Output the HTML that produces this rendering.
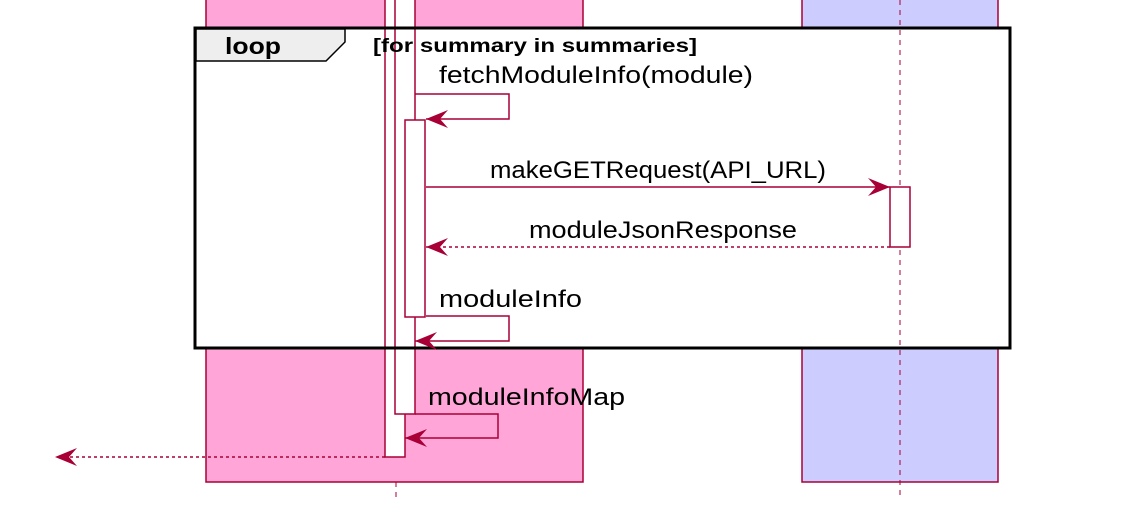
<!DOCTYPE html>
<html><head><style>body{margin:0;background:#fff}svg{display:block}</style></head><body>
<svg width="1142" height="528" viewBox="0 0 1142 528" xmlns="http://www.w3.org/2000/svg" font-family="Liberation Sans, sans-serif">
<defs>
<marker id="a" markerWidth="24" markerHeight="20" refX="22" refY="10" orient="auto" markerUnits="userSpaceOnUse"><path d="M0,1 L22,10 L0,19 L8,10 Z" fill="#A80036"/></marker>
</defs>
<rect x="206" y="-5" width="377" height="487" fill="#FFA5D8" stroke="#A80036" stroke-width="1.5"/>
<rect x="802" y="-5" width="196" height="487" fill="#CCCCFF" stroke="#A80036" stroke-width="1.5"/>
<rect x="195" y="28" width="815" height="320" fill="#fff"/>
<line x1="396" y1="482" x2="396" y2="500" stroke="#A80036" stroke-dasharray="5,5"/>
<line x1="900" y1="0" x2="900" y2="500" stroke="#A80036" stroke-dasharray="5,5"/>
<rect x="385" y="-5" width="20" height="462" fill="#fff" stroke="#A80036" stroke-width="1.5"/>
<rect x="395" y="-5" width="20" height="419" fill="#fff" stroke="#A80036" stroke-width="1.5"/>
<rect x="405" y="120" width="20" height="197" fill="#fff" stroke="#A80036" stroke-width="1.5"/>
<rect x="890" y="187" width="20" height="60" fill="#fff" stroke="#A80036" stroke-width="1.5"/>
<rect x="195" y="28" width="815" height="320" fill="none" stroke="#000" stroke-width="3"/>
<path d="M196,29 L345,29 L345,42 L326,61 L196,61 Z" fill="#EEEEEE" stroke="#000" stroke-width="1.5"/>
<text x="225" y="54" font-size="23" font-weight="bold" textLength="56" lengthAdjust="spacingAndGlyphs">loop</text>
<text x="373" y="52" font-size="19" font-weight="bold" textLength="324" lengthAdjust="spacingAndGlyphs">[for summary in summaries]</text>
<g fill="none" stroke="#A80036" stroke-width="1.5">
<polyline points="415,94 509,94 509,119 426,119" marker-end="url(#a)"/>
<line x1="426" y1="187" x2="890" y2="187" marker-end="url(#a)"/>
<line x1="890" y1="247" x2="426" y2="247" stroke-dasharray="3,3" marker-end="url(#a)"/>
<polyline points="426,316 509,316 509,341 415,341" marker-end="url(#a)"/>
<polyline points="415,414 498,414 498,438 405,438" marker-end="url(#a)"/>
<line x1="385" y1="457" x2="55" y2="457" stroke-dasharray="3,3" marker-end="url(#a)"/>
</g>
<g font-size="24" fill="#000" lengthAdjust="spacingAndGlyphs">
<text x="439" y="83" textLength="314" lengthAdjust="spacingAndGlyphs">fetchModuleInfo(module)</text>
<text x="490" y="178" textLength="336" lengthAdjust="spacingAndGlyphs">makeGETRequest(API_URL)</text>
<text x="529" y="238" textLength="268" lengthAdjust="spacingAndGlyphs">moduleJsonResponse</text>
<text x="439" y="307" textLength="143" lengthAdjust="spacingAndGlyphs">moduleInfo</text>
<text x="428" y="405" textLength="197" lengthAdjust="spacingAndGlyphs">moduleInfoMap</text>
</g>
</svg>
</body></html>
